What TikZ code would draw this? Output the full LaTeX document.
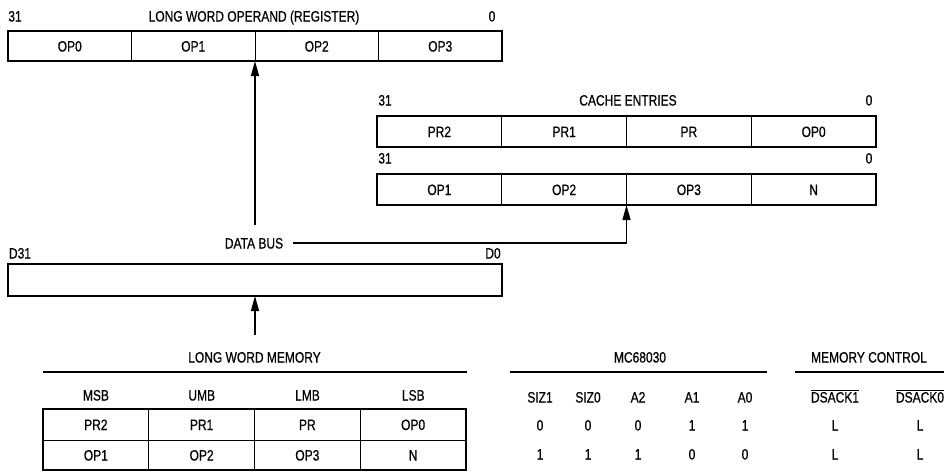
\documentclass[tikz,border=0pt]{standalone}
\usepackage{fontspec}
\setmainfont{Liberation Sans}[FakeStretch=0.8,FakeBold=0.6]
\usetikzlibrary{arrows.meta}
\tikzset{
  diag/.style={x=1pt,y=-1pt,font=\fontsize{15}{17}\selectfont,>={Triangle[length=15pt,width=8pt]}},
  note/.style={inner sep=0pt,outer sep=0pt,text height=11pt,text depth=0pt},
  cell/.style={note,draw,line width=1pt,anchor=north west,minimum height=30pt},
  frame/.style={line width=2.6pt},
  rule/.style={line width=2pt},
  bus/.style={->,line width=1.3pt},
}

\begin{document}
\begin{tikzpicture}[diag]
\useasboundingbox (0,0) rectangle (949,472);
% long word operand (register)
\node[note] (regHi) at (15,16) {31};
\node[note] (regTitle) at (254,16) {LONG WORD OPERAND (REGISTER)};
\node[note] (regLo) at (492,16) {0};
\foreach \i/\txt in {0/OP0,1/OP1,2/OP2,3/OP3} {
  \node[cell,minimum width=123.5pt] (reg\i) at (8+123.5*\i,31) {\txt};
}
\draw[frame] (reg0.north west) rectangle (reg3.south east);
% cache entries
\node[note] (cacheHi) at (385,100) {31};
\node[note] (cacheTitle) at (628,100) {CACHE ENTRIES};
\node[note] (cacheLo) at (869,100) {0};
\foreach \i/\txt in {0/PR2,1/PR1,2/PR,3/OP0} {
  \node[cell,minimum width=124.75pt,minimum height=31pt] (cacheA\i) at (377+124.75*\i,116) {\txt};
}
\draw[frame] (cacheA0.north west) rectangle (cacheA3.south east);
\node[note] (cacheHiB) at (385,158) {31};
\node[note] (cacheLoB) at (869,158) {0};
\foreach \i/\txt in {0/OP1,1/OP2,2/OP3,3/N} {
  \node[cell,minimum width=124.75pt,minimum height=31pt] (cacheB\i) at (377+124.75*\i,174) {\txt};
}
\draw[frame] (cacheB0.north west) rectangle (cacheB3.south east);
% data bus
\node[note] (busLabel) at (254,243) {DATA BUS};
\node[note] (dHi) at (20,253) {D31};
\node[note] (dLo) at (493,253) {D0};
\node[cell,minimum width=494pt,minimum height=32pt] (dbus) at (8,264) {};
\draw[frame] (dbus.north west) rectangle (dbus.south east);
\coordinate (busUp) at (255,225);
\draw[bus] (busUp) -- (reg1.south east);
\draw[bus] ([xshift=10pt]busLabel.east) -| (cacheB1.south east);
\coordinate (memUp) at (255,335);
\draw[bus] (memUp) -- (dbus.south);
% long word memory
\node[note] (memTitle) at (254.5,357) {LONG WORD MEMORY};
\draw[rule] (43,372) -- (467,372);
\foreach \i/\txt in {0/MSB,1/UMB,2/LMB,3/LSB} {
  \node[note] (memHead\i) at (96+105.75*\i,395) {\txt};
}
\foreach \i/\txt in {0/PR2,1/PR1,2/PR,3/OP0} {
  \node[cell,minimum width=105.75pt,minimum height=31pt] (memA\i) at (43+105.75*\i,409) {\txt};
}
\foreach \i/\txt in {0/OP1,1/OP2,2/OP3,3/N} {
  \node[cell,minimum width=105.75pt,minimum height=30pt] (memB\i) at (43+105.75*\i,440) {\txt};
}
\draw[frame] (memA0.north west) rectangle (memB3.south east);
% mc68030
\node[note] (cpuTitle) at (640,357) {MC68030};
\draw[rule] (510,372) -- (767,372);
\foreach \x/\h/\a/\b [count=\k] in {540/SIZ1/0/1,588/SIZ0/0/1,638/A2/0/1,692/A1/1/0,745/A0/1/0} {
  \node[note] (cpuHead\k) at (\x,397) {\h};
  \node[note] (cpuA\k) at (\x,425) {\a};
  \node[note] (cpuB\k) at (\x,454) {\b};
}
% memory control
\node[note] (ctlTitle) at (869,357) {MEMORY CONTROL};
\draw[rule] (795,372) -- (944,372);
\foreach \x/\h [count=\k] in {835/1,920/0} {
  \node[note] (ctlHead\k) at (\x,397) {$\overline{\hbox{DSACK\h}}$};
  \node[note] (ctlA\k) at (\x,425) {L};
  \node[note] (ctlB\k) at (\x,454) {L};
}
\end{tikzpicture}
\end{document}
